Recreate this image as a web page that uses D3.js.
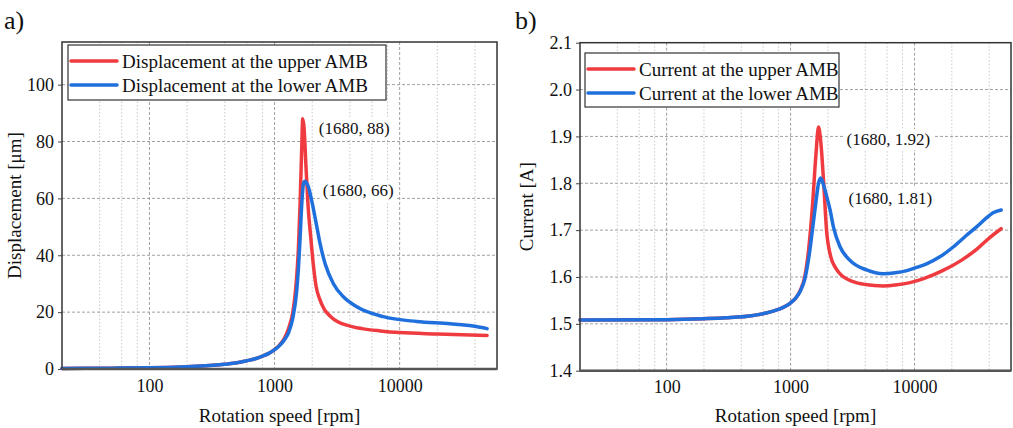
<!DOCTYPE html>
<html><head><meta charset="utf-8">
<script src="https://cdn.jsdelivr.net/npm/d3@7"></script>
<style>
body{margin:0;background:#fff}
svg{display:block}
</style>
</head><body>
<svg id="c" width="1013" height="428"></svg>
<script>
// ---- data (rpm, value) ----
const dispUpper = [[20,0.2],[50,0.3],[100,0.4],[200,0.8],[300,1.2],[400,1.7],[500,2.2],[600,2.9],[700,3.6],[800,4.5],[900,5.5],[1000,6.8],[1100,8.5],[1200,10.8],[1300,14.5],[1400,20],[1450,25],[1500,32],[1550,42],[1600,58],[1650,78],[1680,88],[1720,85],[1780,72],[1850,58],[1950,46],[2050,36],[2150,29],[2300,24.5],[2500,21],[2800,18.5],[3200,16.6],[4000,15.1],[5000,14.2],[7000,13.4],[10000,12.8],[20000,12.3],[50000,11.8]];
const dispLower = [[20,0.2],[50,0.3],[100,0.4],[200,0.8],[300,1.2],[400,1.7],[500,2.2],[600,2.9],[700,3.6],[800,4.5],[900,5.5],[1000,6.8],[1100,8.3],[1200,10.3],[1300,13],[1400,18],[1500,27],[1550,35],[1600,46],[1650,58],[1700,65],[1750,66],[1800,65.5],[1866,64],[1985,59],[2178,50],[2314,44],[2537,37],[2954,30],[3550,25.4],[4540,21.9],[7400,18.4],[13700,16.7],[25300,15.9],[40000,15],[50000,14.2]];
const curUpper = [[20,1.508],[100,1.509],[200,1.511],[300,1.513],[500,1.518],[700,1.526],[900,1.537],[1000,1.545],[1100,1.555],[1200,1.572],[1300,1.60],[1400,1.66],[1500,1.75],[1600,1.86],[1680,1.92],[1750,1.89],[1850,1.80],[1950,1.70],[2100,1.645],[2300,1.62],[2500,1.607],[3200,1.590],[4000,1.584],[5600,1.581],[7000,1.583],[9200,1.588],[12000,1.597],[17000,1.614],[24000,1.636],[32000,1.660],[40000,1.683],[50000,1.703]];
const curLower = [[20,1.508],[100,1.509],[200,1.511],[300,1.513],[500,1.518],[700,1.526],[900,1.537],[1000,1.545],[1100,1.555],[1200,1.570],[1300,1.595],[1400,1.64],[1500,1.70],[1600,1.76],[1680,1.80],[1750,1.811],[1850,1.795],[1960,1.771],[2083,1.743],[2215,1.707],[2500,1.665],[3000,1.636],[4100,1.615],[5600,1.607],[7000,1.609],[8500,1.613],[10000,1.619],[12500,1.628],[16000,1.643],[20500,1.664],[26000,1.688],[32000,1.708],[38000,1.726],[43000,1.737],[50000,1.743]];

const xDomain = [20, 60000];
const xTickValues = [100, 1000, 10000];
const xMinorMult = [2, 4, 6, 8];
const dispTicks = [0, 20, 40, 60, 80, 100];
const curTicks = [1.4, 1.5, 1.6, 1.7, 1.8, 1.9, 2.0, 2.1];
const dispDomain = [0, 115];
const curDomain = [1.4, 2.1];

const legendDisp = ["Displacement at the upper AMB", "Displacement at the lower AMB"];
const legendCur = ["Current at the upper AMB", "Current at the lower AMB"];
const annDisp = [[1680, 88, "(1680, 88)"], [1680, 66, "(1680, 66)"]];
const annCur = [[1680, 1.92, "(1680, 1.92)"], [1680, 1.81, "(1680, 1.81)"]];

const RED = "#ef3b3f", BLUE = "#1f6fdc";
const FONT = "'Liberation Serif', 'Times New Roman', serif";
const svg = d3.select("#c");

function txt(sel, size) { return sel.style("font-family", FONT).style("font-size", size + "px").attr("fill", "#111"); }

function panel(o) {
  const x = d3.scaleLog().domain(xDomain).range([o.l, o.r]);
  const y = d3.scaleLinear().domain(o.yDomain).range([o.b, o.t]);
  const g = svg.append("g");
  const minors = [];
  for (let k = 1; k <= 4; k++) xMinorMult.forEach(m => { const v = m * Math.pow(10, k); if (v > xDomain[0] && v < xDomain[1]) minors.push(v); });
  g.selectAll(".mg").data(minors).enter().append("line")
    .attr("x1", d => x(d)).attr("x2", d => x(d)).attr("y1", o.t).attr("y2", o.b)
    .attr("stroke", "#c8c8c8").attr("stroke-width", 1).attr("stroke-dasharray", "1.5,2");
  g.selectAll(".Mg").data(xTickValues).enter().append("line")
    .attr("x1", d => x(d)).attr("x2", d => x(d)).attr("y1", o.t).attr("y2", o.b)
    .attr("stroke", "#a0a0a0").attr("stroke-width", 1).attr("stroke-dasharray", "3,2");
  g.selectAll(".hg").data(o.yTicks.filter(v => v > o.yDomain[0] && v < o.yDomain[1])).enter().append("line")
    .attr("x1", o.l).attr("x2", o.r).attr("y1", d => y(d)).attr("y2", d => y(d))
    .attr("stroke", "#a0a0a0").attr("stroke-width", 1).attr("stroke-dasharray", "3,2");

  const xa = g.append("g").attr("transform", `translate(0,${o.b})`)
    .call(d3.axisBottom(x).tickValues(xTickValues).tickFormat(d3.format("d")).tickSize(0).tickPadding(10));
  const ya = g.append("g").attr("transform", `translate(${o.l},0)`)
    .call(d3.axisLeft(y).tickValues(o.yTicks).tickFormat(o.fmt).tickSize(4).tickPadding(4));
  [xa, ya].forEach(a => { a.attr("font-family", null); a.select(".domain").remove(); txt(a.selectAll("text"), 18); });
  ya.selectAll("line").attr("stroke", "#444");

  const line = d3.line().x(d => x(d[0])).y(d => y(d[1])).curve(d3.curveMonotoneX);
  o.series.forEach((s, i) => {
    g.append("path").datum(s).attr("d", line).attr("fill", "none")
      .attr("stroke", i === 0 ? RED : BLUE).attr("stroke-width", 3.5).attr("stroke-linejoin", "round").attr("stroke-linecap", "round");
  });

  g.append("rect").attr("x", o.l).attr("y", o.t).attr("width", o.r - o.l).attr("height", o.b - o.t)
    .attr("fill", "none").attr("stroke", "#333").attr("stroke-width", 1.5);
  g.append("line").attr("x1", o.l).attr("x2", o.r).attr("y1", o.b).attr("y2", o.b).attr("stroke", "#555").attr("stroke-width", 2.5);

  o.ann.forEach((a, i) => {
    const tx = x(a[0]) + o.annOff[i][0], ty = y(a[1]) + o.annOff[i][1];
    const t = txt(g.append("text").attr("x", tx).attr("y", ty).attr("dy", "0.35em"), 17).text(a[2]);
    const bb = t.node().getBBox();
    g.insert("rect", () => t.node()).attr("x", bb.x - 3).attr("y", bb.y - 1).attr("width", bb.width + 6).attr("height", bb.height + 2).attr("fill", "#fff");
  });

  const L = o.leg;
  g.append("rect").attr("x", L.x).attr("y", L.y).attr("width", L.w).attr("height", L.h)
    .attr("fill", "#fff").attr("stroke", "#333").attr("stroke-width", 1.2);
  o.legText.forEach((s, i) => {
    const yy = L.y + 16 + i * 24;
    g.append("line").attr("x1", L.x + 3).attr("x2", L.x + 49).attr("y1", yy).attr("y2", yy)
      .attr("stroke", i === 0 ? RED : BLUE).attr("stroke-width", 3.5).attr("stroke-linecap", "round");
    txt(g.append("text").attr("x", L.x + 54).attr("y", yy).attr("dy", "0.35em"), 19).text(s);
  });

  txt(g.append("text").attr("x", (o.l + o.r) / 2).attr("y", 415).attr("dy", "0.35em").attr("text-anchor", "middle"), 19).text("Rotation speed [rpm]");
  txt(g.append("text").attr("transform", `translate(${o.ylx},${(o.t + o.b) / 2}) rotate(-90)`).attr("dy", "0.35em").attr("text-anchor", "middle"), 19).text(o.ylabel);
  txt(g.append("text").attr("x", o.px).attr("y", 20).attr("dy", "0.35em"), 26).text(o.plabel);
}

panel({l: 62, r: 497, t: 42, b: 369, yDomain: dispDomain, yTicks: dispTicks, fmt: d3.format("d"),
  series: [dispUpper, dispLower], ann: annDisp, annOff: [[16, 9], [20, 9]],
  leg: {x: 68, y: 45, w: 318, h: 55}, legText: legendDisp, ylabel: "Displacement [μm]", ylx: 14, plabel: "a)", px: 4});
panel({l: 580, r: 1011, t: 42.7, b: 370.7, yDomain: curDomain, yTicks: curTicks, fmt: d3.format(".1f"),
  series: [curUpper, curLower], ann: annCur, annOff: [[28, 12], [30, 19]],
  leg: {x: 585, y: 53, w: 254, h: 54}, legText: legendCur, ylabel: "Current [A]", ylx: 526, plabel: "b)", px: 515});
</script>
</body></html>
